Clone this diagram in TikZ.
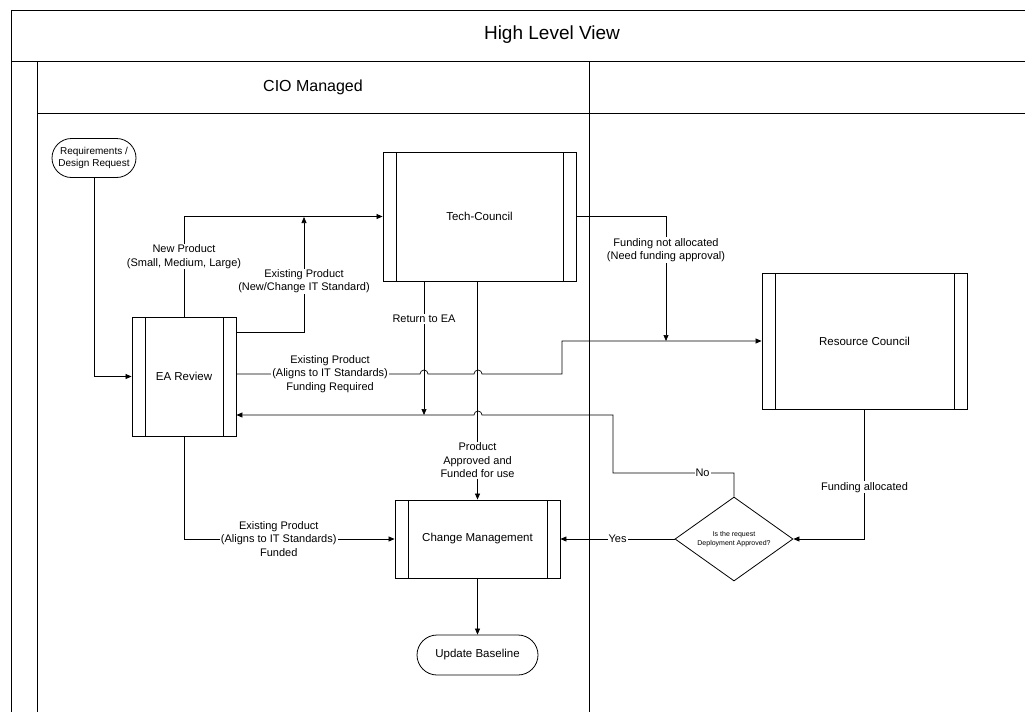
\documentclass[tikz,border=0pt]{standalone}
\usepackage{fontspec}
\setmainfont{Liberation Sans}
\usetikzlibrary{shapes.geometric,shapes.misc,arrows.meta}
\begin{document}
\begin{tikzpicture}[x=1pt,y=-1pt,
  lane/.style={line width=0.9pt},
  sub/.style={draw, line width=0.9pt, inner sep=0pt, align=center,
    font=\fontsize{11.5}{14}\selectfont,
    path picture={\draw[line width=0.9pt]
      ([xshift=13pt]path picture bounding box.north west) -- ([xshift=13pt]path picture bounding box.south west)
      ([xshift=-13pt]path picture bounding box.north east) -- ([xshift=-13pt]path picture bounding box.south east);}},
  term/.style={draw, rounded rectangle, line width=0.8pt, align=center, inner sep=1pt,
    font=\fontsize{10}{12.5}\selectfont},
  arr/.style={-{Triangle[length=6pt,width=5pt]}, line width=0.7pt},
  lbl/.style={fill=white, inner sep=1pt, align=center, font=\fontsize{11}{13.5}\selectfont}]
\useasboundingbox (0,0) rectangle (1025,712);
% swimlane frame
\draw[lane] (1025,10) -- (11,10) -- (11,712);
\draw[lane] (11,61) -- (1025,61);
\draw[lane] (37,61) -- (37,712);
\draw[lane] (37,113) -- (1025,113);
\draw[lane] (589,61) -- (589,712);
\node[font=\fontsize{19}{22}\selectfont] (title) at (552,35) {High Level View};
\node[font=\fontsize{16}{19}\selectfont] (cio) at (313,87) {CIO Managed};
% nodes
\node[term, minimum width=86pt, minimum height=39pt] (req) at (94,158) {Requirements /\\Design Request};
\node[sub, minimum width=104pt, minimum height=119pt] (ea) at (184,376.5) {EA Review};
\node[sub, minimum width=193pt, minimum height=129pt] (tc) at (479.5,216.5) {Tech-Council};
\node[sub, minimum width=205pt, minimum height=136pt] (rc) at (864.5,341) {Resource Council};
\node[sub, minimum width=165pt, minimum height=78pt] (cm) at (477.5,539) {Change Management};
\node[term, minimum width=123pt, minimum height=40pt, font=\fontsize{11.5}{14}\selectfont] (ub) at (477.5,655) {Update Baseline};
\node[diamond, draw, line width=0.8pt, minimum width=118pt, minimum height=84pt, inner sep=0pt, aspect=1.4,
  align=center, font=\fontsize{7}{8.5}\selectfont] (dia) at (734,539) {Is the request\\Deployment Approved?};
% helper coordinates
\coordinate (ya) at (0,332);
\coordinate (yb) at (0,374);
\coordinate (yc) at (0,415);
\coordinate (j1) at (304,217);
\coordinate (r1) at (424,415);
\coordinate (f1) at (666,341);
% connectors
\draw[arr] (req.south) |- (ea.west);
\draw[arr] (ea.north) |- node[lbl,pos=0.3]{New Product\\(Small, Medium, Large)} (tc.west);
\draw[arr] (ea.east |- ya) -| node[lbl,pos=0.72]{Existing Product\\(New/Change IT Standard)} (j1);
\draw[arr] (ea.east |- yb) -- node[lbl,pos=0.51]{Existing Product\\(Aligns to IT Standards)\\Funding Required} (420,374)
  arc[start angle=180,end angle=0,radius=4pt] -- (474,374)
  arc[start angle=180,end angle=0,radius=4pt] -- (562,374) -- (562,341) -- (rc.west);
\draw[arr] (tc.south -| r1) -- node[lbl,pos=0.28]{Return to EA} (r1);
\draw[arr] (tc.south -| cm.north) -- node[lbl,pos=0.82]{Product\\Approved and\\Funded for use} (cm.north);
\draw[arr] (dia.north) -- (734,473) -- node[lbl,pos=0.26]{No} (613,473) -- (613,415) -- (482,415)
  arc[start angle=0,end angle=180,radius=4pt] -- (ea.east |- yc);
\draw[arr] (ea.south) |- node[lbl,pos=0.725]{Existing Product\\(Aligns to IT Standards)\\Funded} (cm.west);
\draw[arr] (cm.south) -- (ub.north);
\draw[arr] (dia.west) -- node[lbl,pos=0.5]{Yes} (cm.east);
\draw[arr] (rc.south) |- node[lbl,pos=0.3]{Funding allocated} (dia.east);
\draw[arr] (tc.east) -| node[lbl,pos=0.636]{Funding not allocated\\(Need funding approval)} (f1);
\end{tikzpicture}
\end{document}
